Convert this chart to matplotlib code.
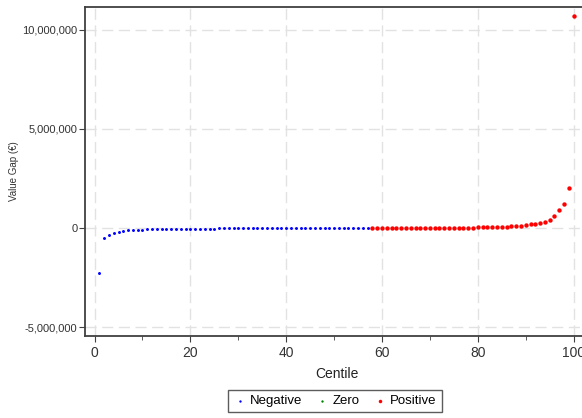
import numpy as np
import matplotlib.pyplot as plt
from matplotlib.ticker import FuncFormatter, MultipleLocator

plt.rcParams['font.family'] = ['Liberation Sans', 'DejaVu Sans']

# centiles and value gaps (EUR)
neg_centile = list(range(1, 58))
neg_gap = [-2250000, -500000, -370000, -260000, -190000, -150000, -125000, -105000,
           -90000, -80000, -72000, -65000, -59000, -54000, -50000, -46000, -43000,
           -40000, -37000, -35000, -33000, -31000, -29000, -27500, -26000, -24500,
           -23000, -22000, -21000, -20000, -19000, -18000, -17000, -16000, -15000,
           -14200, -13400, -12600, -11800, -11000, -10300, -9600, -9000, -8400,
           -7800, -7200, -6700, -6200, -5700, -5200, -4700, -4200, -3700, -3200,
           -2700, -2200, -1700]
zero_centile = []
zero_gap = []
pos_centile = list(range(58, 101))
pos_gap = [600, 800, 1200, 1800, 2500, 3200, 4000, 4800, 5600, 6500, 7400, 8400,
           9400, 10500, 11600, 12800, 14000, 15500, 17000, 18500, 20500, 23000,
           25000, 28000, 32000, 38000, 45000, 55000, 68000, 82000, 100000, 122000,
           150000, 180000, 215000, 250000, 300000, 420000, 610000, 910000, 1210000,
           2020000, 10690000]

fig = plt.figure(figsize=(5.82, 4.18), dpi=100)
ax = fig.add_axes([85 / 582, 82 / 418, 503 / 582, 329 / 418])

ax.scatter(neg_centile, neg_gap, s=4.5, color='#0000ff', linewidths=0, label='Negative', zorder=3)
ax.scatter(zero_centile, zero_gap, s=4.5, color='#008000', linewidths=0, label='Zero', zorder=3)
ax.scatter(pos_centile, pos_gap, s=10, color='#ff0000', linewidths=0, label='Positive', zorder=3)

ax.set_xlim(-2, 103)
ax.set_ylim(-5450000, 11150000)
ax.xaxis.set_major_locator(MultipleLocator(20))
ax.xaxis.set_minor_locator(MultipleLocator(10))
ax.yaxis.set_major_locator(MultipleLocator(5000000))
ax.yaxis.set_major_formatter(FuncFormatter(lambda v, p: f'{v:,.0f}'))

ax.grid(True, which='major', color='#e2e2e2', linestyle=(0, (8, 4)), linewidth=1)
ax.set_axisbelow(True)
for s in ax.spines.values():
    s.set_color('#404040')
    s.set_linewidth(1.3)

ax.tick_params(axis='y', labelsize=8, colors='#404040', length=4, pad=1.5, labelcolor='#333333')
ax.tick_params(axis='x', labelsize=10, colors='#404040', length=4, labelcolor='#333333')
ax.tick_params(axis='x', which='minor', length=3, colors='#404040')

ax.set_xlabel('Centile', fontsize=10, color='#222222', labelpad=5)
ax.set_ylabel('Value Gap (€)', fontsize=7, color='#333333', labelpad=2)

leg = fig.legend(loc='center', bbox_to_anchor=(335 / 582, 17 / 418), ncol=3,
                 fontsize=9.5, frameon=True, fancybox=False, markerscale=0.8,
                 handletextpad=0.3, columnspacing=1.0, borderpad=0.4,
                 handlelength=1.0, edgecolor='#333333')
leg.get_frame().set_linewidth(1.0)

fig.savefig('out.png', dpi=100)
